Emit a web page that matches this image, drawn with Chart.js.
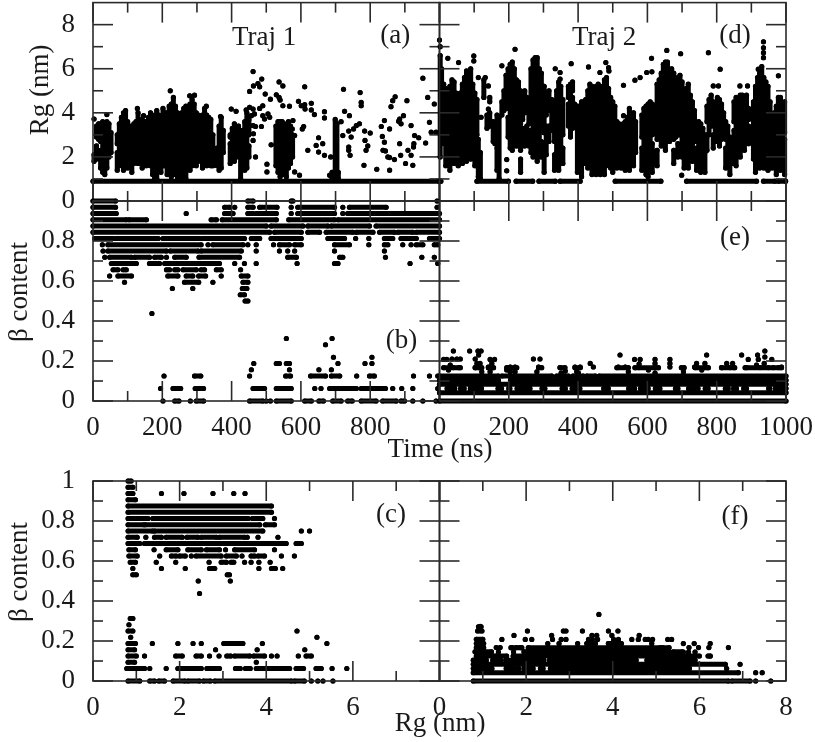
<!DOCTYPE html>
<html>
<head>
<meta charset="utf-8">
<title>Rg and beta content</title>
<script src="https://cdn.jsdelivr.net/npm/chart.js@4/dist/chart.umd.min.js"></script>
<style>
  html, body { margin: 0; padding: 0; background: #fff; }
  #page { position: relative; width: 815px; height: 742px; overflow: hidden; }
  #page canvas { position: absolute; left: 0; top: 0; }
</style>
</head>
<body>
<div id="page"></div>
<script>
// axis ticks
const timeLabels = [0, 200, 400, 600, 800, 1000];
const timeMinor = [100, 300, 500, 700, 900];
const rgLabels = [0, 2, 4, 6, 8];
const rgMinor = [1, 3, 5, 7];
const betaLabels = [0, 0.2, 0.4, 0.6, 0.8, 1];
const betaMinor = [0.1, 0.3, 0.5, 0.7, 0.9];

// (a) Rg against time, traj 1: [time, low, high] for the columns where dots merge
const rg1Baseline = [[0, 1000]];
const rg1Columns = [[3,1.8,2.1],[10,1.9,2.5],[10,2.9,3.4],[16,2.8,3.5],[22,1.5,2.3],[22,2.7,3.5],[28,1.3,3.0],[28,3.2,3.6],[34,1.2,2.0],[34,2.4,3.4],[40,1.5,3.6],[46,2.0,2.6],[46,3.0,3.5],[52,2.2,3.1],
  [70,1.4,2.2],[70,2.6,3.0],[76,1.6,2.8],[76,3.1,3.5],[82,2.0,3.8],[88,1.4,2.4],[88,2.8,4.0],[94,1.9,3.3],[94,3.6,4.1],[100,1.5,2.8],[100,3.0,3.6],[106,2.0,3.4],[112,1.3,2.3],[112,2.7,3.3],[118,1.7,3.0],[118,3.2,3.5],[124,2.0,3.6],[130,1.7,2.6],[130,2.9,4.0],[136,2.0,3.6],[142,1.5,2.4],[142,2.7,3.7],[148,1.9,3.6],[154,1.6,3.0],[154,3.3,3.6],[160,1.9,3.8],[166,1.6,2.9],[166,3.2,4.0],
  [172,1.2,3.6],[178,1.0,3.9],[184,1.0,4.1],[190,1.4,3.9],[196,1.3,3.8],[202,1.6,4.2],[208,1.6,4.0],[214,1.2,4.0],[220,1.5,4.3],[226,1.1,4.4],[232,1.5,4.7],[238,1.2,4.3],[244,1.0,4.0],[250,1.6,3.9],[256,1.0,4.0],[262,1.1,4.2],[268,1.0,4.3],[274,1.5,4.1],[280,1.4,4.4],[286,1.6,4.6],[292,1.7,4.4],[298,1.6,4.0],[304,1.8,3.9],[310,1.9,3.8],[316,1.5,3.9],[322,1.7,4.2],[328,1.6,3.9],[334,1.8,3.8],[340,1.6,3.7],[346,1.6,3.0],
  [358,1.6,2.4],[364,1.4,3.4],[370,1.5,3.8],[376,2.2,3.2],
  [396,1.7,2.6],[396,2.9,3.0],[402,2.0,3.3],[408,1.8,2.8],[408,3.1,3.5],[414,2.0,3.0],[420,2.3,3.4],[426,1.0,2.4],[426,2.7,3.2],[432,2.0,3.2],[438,1.4,2.2],[438,2.5,3.6],[444,1.5,4.0],[450,2.0,2.5],[450,3.0,3.7],
  [528,1.6,3.4],[534,1.3,3.6],[540,1.1,3.6],[546,1.2,3.6],[552,1.2,3.5],[558,1.1,3.4],[564,1.5,3.6],[570,1.7,3.4],[576,2.0,3.0],
  [699,1.1,3.7],[704,1.1,3.5],[708,1.0,1.3],[690,1.0,1.3]];
const rg1Dots = [[3,3.72],[40,3.92],[128,4.2],[146,3.87],[223,5.0],[279,4.77],[293,4.8],[327,4.3],[368,3.83],[399,4.17],[413,4.07],
  [462,5.87],[452,4.97],[463,5.22],[476,5.33],[487,5.53],[481,5.18],[497,4.85],[512,4.62],[529,4.82],[537,5.4],[548,5.22],[537,4.7],[540,4.58],[442,4.13],[452,4.25],[462,4.17],[490,4.32],[481,4.2],[466,3.95],[457,3.87],[490,3.87],[505,3.95],[495,3.72],[510,3.8],[486,3.38],[462,3.42],[469,3.38],[463,3.05],[462,2.75],[469,2.0],[514,2.55],[502,1.67],[502,1.32],[548,4.32],[567,4.3],
  [582,2.97],[575,3.27],[577,3.65],[582,1.32],[596,1.17],[593,4.52],[611,5.18],[601,4.32],[611,4.37],[630,4.43],[612,4.17],[630,4.13],[639,3.92],[668,4.05],[668,3.77],[604,3.27],[608,3.38],[651,2.87],[644,2.52],[663,2.6],[620,2.3],[651,2.22],[668,2.07],[686,2.0],[683,1.17],
  [723,5.07],[726,4.07],[740,3.87],[716,3.6],[721,2.97],[738,3.17],[745,2.9],[752,3.27],[760,3.42],[769,3.5],[738,2.45],[738,2.3],[742,2.07],[771,4.92],[774,4.47],[774,4.32],[784,3.17],[800,3.08],[785,2.75],[793,2.5],[788,2.3],[782,1.62],[819,1.44],
  [872,4.73],[865,4.55],[860,4.28],[906,4.55],[896,3.87],[885,3.72],[882,3.62],[889,3.5],[918,3.42],[841,3.65],[832,3.38],[856,3.27],[835,2.93],[841,2.67],[837,2.3],[844,2.27],[851,2.0],[856,1.97],[870,1.88],[885,2.6],[888,2.07],[902,1.7],[923,1.62],[909,2.3],[918,2.07],[925,2.45],[926,2.6],[928,2.97],[940,2.87],[960,2.63],[952,5.57],[966,4.7],[971,3.57],[976,3.12],[990,3.12],[985,4.4],[856,1.4]];

// (d) Rg against time, traj 2
const rg2Baseline = [[108,199],[221,269],[287,334],[348,406],[507,639],[713,915],[935,968],[978,999]];
const rg2Columns = [[2,2.0,6.6],[6,2.6,6.0],[12,3.0,5.3],[18,1.6,5.1],[24,3.0,4.9],[30,1.4,5.2],[36,3.0,5.5],[42,1.7,5.4],[48,3.0,4.9],[54,1.6,4.6],[60,2.8,4.9],[66,1.7,5.3],[72,3,5.6],[78,1.8,4.4],[78,4.7,5.9],[84,3.0,5.7],[90,1.9,4.5],[90,4.8,6.0],[96,3.0,5.3],[102,1.6,4.9],[108,3.0,4.6],[112,1.1,2.8],[118,1.0,2.2],
  [128,4.7,5.5],[137,3.3,3.9],[145,3.4,4.0],[145,4.5,4.7],[155,2.7,3.6],[160,2.6,3.3],[166,1.4,2.4],[166,3.0,3.9],[172,1.0,3.8],[180,3.9,4.5],[186,4.1,5.0],[192,4.4,5.7],
  [198,2.9,3.8],[198,4.2,6.0],[204,2.4,4.6],[204,5.0,6.2],[210,2.3,6.3],[216,2.6,5.0],[216,5.3,6.0],[222,2.5,5.5],[228,2.9,3.4],[228,3.8,5.4],[234,1.3,1.9],[234,2.3,3.1],[234,3.5,5.0],[240,2.9,3.3],[240,3.7,4.6],[246,2.5,3.1],[246,4.0,5.0],[252,3.0,3.4],[252,4.2,4.7],[258,2.5,2.9],[258,3.5,4.2],
  [264,2.2,3.2],[264,3.6,6.0],[270,2.0,2.6],[270,3.1,6.4],[276,2.6,3.4],[276,3.9,6.5],[282,1.8,2.5],[282,3.0,6.5],[288,2.4,3.1],[288,3.6,6.0],[294,2.0,2.7],[294,3.2,5.8],
  [302,1.3,2.5],[302,3.1,5.2],[308,2.1,3.4],[308,3.9,4.7],[316,2.7,3.4],[316,4.1,5.0],[324,3.2,4.6],
  [332,1.4,2.1],[332,2.7,4.2],[338,2.2,3.5],[338,4.0,5.0],[344,1.4,3.0],[344,3.4,5.4],[350,2.4,3.7],[350,4.2,5.2],[356,1.7,2.4],[356,3.0,4.6],
  [372,3.4,4.4],[372,4.7,5.2],[378,2.9,3.8],[378,4.2,5.3],[384,3.3,4.7],[384,5.0,5.4],[390,3.6,4.4],
  [398,1.3,4.3],[404,1.9,4.3],[410,1.1,4.5],[416,1.7,4.5],[422,1.7,4.6],[428,1.5,5.0],[434,2.0,5.3],[440,1.2,5.2],[446,1.7,5.1],[452,1.2,5.2],[458,1.8,5.3],[464,1.2,5.2],[470,1.7,5.0],[476,1.2,5.5],[482,1.7,5.6],[488,1.6,5.1],[494,1.5,4.7],[500,1.3,4.5],[506,1.7,4.3],
  [512,1.5,2.3],[512,2.7,3.6],[518,2.0,3.5],[524,1.5,2.4],[524,2.8,3.4],[530,1.8,3.5],[536,1.4,2.4],[536,2.8,3.6],[542,2.0,3.8],[548,1.4,3.0],[548,3.4,4.2],[554,1.9,3.2],[560,1.6,2.6],[560,3.0,4.0],[566,2.2,3.6],
  [584,1.4,2.4],[584,2.9,3.9],[590,2.1,3.4],[590,3.7,4.2],[596,1.2,2.6],[596,3.0,4.3],[602,1.1,3.3],[602,3.7,4.4],[608,1.8,3.0],[608,3.3,4.5],[614,1.3,2.6],[614,3.0,4.4],
  [628,1.6,2.3],[628,2.8,5.3],[634,3.0,5.5],[640,2.5,5.8],[646,2.9,6.2],[652,2.3,6.3],[658,3.0,6.3],[664,2.7,5.9],[670,3.0,6.0],[676,1.7,2.3],[676,2.8,5.8],[682,2.9,5.5],[688,2.0,2.6],[688,3.0,5.6],[694,3.0,5.7],[700,2.0,5.4],[706,1.5,2.4],[706,3.0,5.0],[712,2.0,5.1],[718,1.5,2.2],[718,2.6,5.3],[724,2.0,4.8],[730,1.8,4.5],[736,2.9,4.1],
  [742,1.4,2.4],[742,2.7,3.4],[748,2.0,3.6],[754,1.3,2.6],[754,3.0,3.5],[760,1.8,3.3],[766,1.3,2.2],[766,2.5,3.0],
  [772,2.3,3.0],[772,3.6,4.3],[778,3.0,3.6],[778,4.0,4.6],[784,3.4,3.9],[784,4.3,4.8],[790,2.4,3.0],[790,3.5,4.5],[796,2.7,3.3],[802,3.3,4.7],[808,2.5,3.1],[808,3.6,4.6],[814,2.8,3.4],[814,3.9,4.4],[820,2.9,4.0],
  [826,1.5,2.4],[826,2.8,3.6],[832,1.9,3.4],[838,1.2,2.2],[838,2.5,2.9],[844,1.7,2.7],
  [850,2.5,3.2],[850,3.6,4.5],[856,1.6,2.5],[856,3.0,4.7],[862,2.2,3.6],[862,4.0,4.5],[868,2.0,2.9],[868,3.3,4.8],[874,2.5,3.7],[874,4.1,4.8],[880,2.3,3.0],[880,3.4,4.4],[886,2.8,3.8],[886,4.2,4.8],[892,2.6,3.4],[892,3.7,4.2],
  [906,1.9,4.5],[912,1.3,3.0],[912,3.3,5.2],[918,1.9,5.6],[924,1.5,3.2],[924,3.5,5.8],[930,2.0,6.1],[936,1.5,3.2],[936,3.5,5.6],[942,1.9,5.4],[948,1.4,3.0],[948,3.3,5.2],
  [954,2.2,4.5],[960,1.5,2.8],[960,3.1,3.9],[966,2.0,4.0],[972,1.2,2.6],[972,2.9,4.3],[978,2.1,4.7],[984,1.4,3.0],[984,3.3,4.7],[990,2.0,4.4],[996,1.2,2.8],[996,3.1,4.5]];
const rg2Dots = [[0,7.3],[2,7.0],[24,6.47],[55,6.28],[99,6.58],[99,6.35],[218,6.88],[180,6.13],[380,6.23],[334,6.0],[430,6.08],[480,6.28],[463,5.83],[488,6.05],[489,5.9],[531,5.25],[564,5.48],[579,5.6],[598,5.83],[613,5.86],[612,6.47],[656,6.83],[696,6.68],[776,6.73],[810,5.98],[935,7.22],[935,6.95],[935,6.73],[935,6.5],[920,5.98],[978,5.68],[348,5.83],[348,5.53],[132,5.6],[112,5.6],[141,5.22],[790,5.22],[805,5.22],[867,5.22],[889,5.22],[699,1.17],[194,1.88],[194,1.37],[141,4.17],[120,3.8],[531,3.87],[410,4.32],[0,0.9],[4,0.9]];

// (b) beta content against time, traj 1: [level in 32nds, runs of time...], a lone number is one dot
const beta1Rows = [
  [32,[0,65],[447,462],[572,577],993],
  [31,[0,65],[380,394],409,[447,462],[481,531],572,[591,697],721,[740,846],993],
  [30,[0,67],269,[380,404],[447,462],[472,529],572,[591,697],721,[735,830],[832,1000]],
  [29,[0,96],[104,154],[341,356],[373,529],[565,697],[707,1000]],
  [28,[0,500],[514,606],[620,678],[688,798],[817,1000]],
  [27,[0,510],[524,601],[620,654],[673,750],[760,808],[827,870],[880,923],[933,1000]],
  [26,[5,58],[67,188],[202,308],[317,437],[457,481],[514,601],[678,726],758,796,[841,865],[889,933],[971,1000]],
  [25,27,[43,312],332,[346,433],447,471,521,[538,567],[582,601],[697,740],796,[841,851],894,918,[933,952],[985,995]],
  [24,29,[43,212],[223,303],[312,428],471,538,562,582,697,841],
  [23,34,[48,111],[120,163],[178,197],212,[236,269],[306,423],[562,587],[712,721],844,949,985],
  [22,[53,125],[163,192],[207,365],409,437,471,589,[697,707],915,995],
  [21,[58,72],[87,96],[212,221],[236,245],[260,298],[312,322],[356,370],426],
  [20,48,[72,111],[216,245],[269,288],[305,325],370,[428,447]],
  [19,91,[264,305],346,[433,447]],
  [18,229,288,[431,444]],
  [17,[425,437]],
  [16,[439,447]],
  [14,170],
  [10,558,690],
  [9,671],
  [7,694,805],
  [6,464,[529,538],[558,567],707,785,805],
  [5,457,567,652,688],
  [4,205,[293,311],452,[556,570],[628,671],[688,712],761,[798,812],925,971,995],
  [2,195,[231,253],[295,319],[462,495],[529,572],640,658,[683,760],[774,844],865,891,923,995],
  [0,202,[236,248],281,[298,319],[452,490],500,512,[529,572],[611,630],[652,665],[692,716],[735,748],[774,817],[836,875],[889,899],923,952,990]
];

// (e) beta content against time, traj 2: levels in 24ths
const beta2Rows = [
  [0,[0,1000]],
  [1,[0,1000]],
  [1.5,[22,44],[61,71],[89,121],[169,179],[200,203],[224,261],[296,304],[354,363],[383,405],[474,487],[546,563],[580,602],[623,636],[681,688],[719,727],[739,746],[767,775],[825,833],[849,857],[878,886],[950,953],[969,1000]],
  [2,[0,1000]],
  [2.5,[0,8],[14,34],[40,72],[78,120],[125,170],[205,232],[240,262],[270,320],[332,400],[410,470],[480,560],[566,640],[650,730],[740,830],[838,905],[912,1000]],
  [3,[0,170],[180,324],[338,372],[385,415],[425,450],[461,1000]],
  [4,[12,60],[103,122],[141,156],[194,223],[286,295],[348,362],[391,406],[512,545],[564,632],[698,706],[738,776],[814,852],[882,987]]
];
const beta2Dots = [[40,.25],[87,.25],[111,.25],[120,.25],[36,.21],[50,.21],[60,.21],[12,.208],[21,.208],[103,.21],[113,.23],[146,.208],[159,.208],[151,.188],[108,.188],[117,.188],[31,.18],[40,.167],[55,.167],[26,.155],[141,.17],[153,.167],[146,.146],[103,.167],[113,.167],[122,.146],
  [271,.21],[290,.21],[286,.17],[204,.17],[218,.17],[204,.146],[218,.146],[194,.155],[281,.146],[348,.167],[363,.15],[351,.14],[391,.17],[406,.17],[396,.146],[435,.188],[444,.17],[401,.14],[521,.23],[563,.208],[579,.208],[576,.185],[622,.208],[622,.188],[620,.167],[665,.208],[665,.188],[665,.17],[516,.17],[536,.17],[545,.146],[576,.167],[603,.155],[622,.14],[704,.146],[742,.188],[736,.17],[771,.23],[766,.188],[771,.167],[757,.155],[814,.167],[829,.188],[846,.188],[838,.167],[872,.23],[891,.208],[887,.167],[918,.23],[920,.208],[939,.25],[939,.22],[937,.188],[959,.208],[987,.17],[963,.167],[915,.18],[925,.167],[949,.167],[978,.167]];

// (c) beta content against Rg, traj 1: levels in 32nds
const scatter1Rows = [
  [32,[.81,.88]],
  [31,[.81,.92]],
  [30,[.81,.92],1.58,2.1,2.77,3.25,3.51],
  [29,[.81,.98]],
  [28,[.81,4.12]],
  [27,[.81,4.12]],
  [26,[.81,1.27],[1.38,3.58],[3.68,3.92],4.19],
  [25,[.81,1.17],[1.21,3.85],[3.98,4.19]],
  [24,[.81,1.38],[1.42,3.92],4.81,5.0],
  [23,[.81,1.02],1.22,[1.42,1.58],[1.69,2.06],[2.17,2.42],[2.5,2.85],[2.92,3.5],3.56,3.81,4.27],
  [22,[.81,1.08],[1.19,4.46],[4.69,4.81]],
  [21,[.83,.98],1.41,[1.69,1.96],[2.19,2.5],[2.62,2.92],3.06,[3.27,3.73],4.19],
  [20,[.83,1.02],1.54,[1.81,1.92],[2.0,2.13],2.27,[2.38,2.96],[3.08,3.31],3.44,[3.65,3.73],[3.81,3.96],4.35,4.65],
  [19,[.86,.98],1.46,1.91,2.68,[2.96,3.08],[3.19,3.25],3.5,3.65,3.83,4.09],
  [18,.92,1.58,2.13,[2.69,2.81],3.83,[4.12,4.21],4.38],
  [17,[.92,1.0],[3.1,3.15]],
  [16,2.43,3.17],
  [14,2.46],
  [10,[.86,.92]],
  [9,.83],
  [8,[.81,.92],4.71],
  [7,.87,5.17],
  [6,[.81,.98],1.37,1.96,2.31,2.5,[3.02,3.46],3.91,5.4],
  [5,[.81,.96],2.83,3.79,4.89],
  [4,[.81,1.0],1.19,[1.91,2.06],[2.38,2.5],2.69,2.91,[3.09,3.18],[3.27,3.62],[3.71,3.96],4.12,4.25,4.74,[4.92,5.04]],
  [3,[.81,.96],3.77],
  [2,[.78,1.19],1.31,1.69,[1.96,2.5],[2.63,2.92],[3.29,3.4],[3.52,3.63],[3.77,4.54],[4.69,4.86],[5.15,5.27],5.52,5.86],
  [0,[.81,1.08],[1.31,1.42],[1.52,1.65],[1.85,2.12],[2.19,2.46],[2.55,2.71],[2.81,4.58],[4.65,4.88],5.04,5.19,5.31,5.54]
];

// (f) beta content against Rg, traj 2: levels in 24ths
const scatter2Rows = [
  [0,[.78,6.67],[6.75,7.17],7.3,7.65],
  [1,[.78,6.9],7.3,7.45],
  [1.5,[.78,1.21],[1.54,1.62],[1.68,1.72],[1.82,1.83],[1.95,2.16],[2.33,2.39],[2.56,2.8],[2.87,3.62],[3.68,4.22],[4.28,5.77]],
  [2,[.78,6.6],6.94],
  [2.5,[.78,1.08],[1.23,1.41],[1.53,1.97],[2.06,2.41],[2.54,2.8],[2.87,3.05],[3.1,3.62],[3.66,4.54],[4.79,4.93],[5.03,5.9]],
  [3,[.85,1.25],[1.3,1.55],[1.7,6.0],6.2,6.25],
  [3.5,[.82,1.2],[1.95,2.9],[3.0,3.3],[3.4,3.6],[3.7,5.3],[5.4,5.6]],
  [4,[.85,1.02],[1.65,1.9],[2.05,5.1],[5.15,5.3]],
  [4.5,[.85,1.02],[3.4,3.6],[3.9,4.2]],
  [5,[.85,1.0]],
  [6,[.88,.98]],
  [6.5,[.9,.96]]
];
const scatter2Dots = [[.94,.273],[1.72,.228],[2.03,.25],[1.44,.208],[1.98,.208],[2.13,.208],[1.31,.167],[1.4,.167],[1.36,.145],[1.67,.167],[1.78,.167],[1.86,.167],[1.71,.145],[2.59,.228],[2.61,.208],[2.86,.25],[2.92,.25],[2.81,.208],[2.92,.208],[2.76,.187],[2.5,.187],[3.3,.25],[3.68,.333],[3.44,.208],[3.52,.228],[3.63,.228],[3.53,.208],[3.65,.208],[3.42,.187],[3.19,.187],[3.9,.25],[4.12,.25],[3.98,.228],[4.02,.208],[4.13,.208],[3.9,.187],[4.17,.187],[4.44,.208],[4.61,.228],[4.59,.208],[4.75,.208],[4.82,.208],[4.92,.208],[4.9,.187],[5.27,.208],[5.36,.208],[5.63,.187],[5.88,.187],[6.25,.187],[6.22,.167],[5.98,.167],[5.76,.167],[6.67,.167],[5.63,.145],[5.75,.145],[6.25,.125],[5.9,.145],[6.63,.0625]];

const FONT = '"Liberation Serif", "Times New Roman", serif';
const INK = '#1a1a1a';
const WIDTH = 815, HEIGHT = 742;

// turn the readings into chart points, a null y breaks the line between runs
function fromRuns(runs, y) {
  const out = [];
  runs.forEach(r => {
    if (Array.isArray(r)) { out.push({x: r[0], y: y}, {x: r[1], y: y}); }
    else { out.push({x: r, y: y}); }
    out.push({x: 0, y: null});
  });
  return out;
}
function fromRows(rows, denominator) {
  return rows.flatMap(row => fromRuns(row.slice(1), row[0] / denominator));
}
function fromColumns(columns) {
  return columns.flatMap(c => [{x: c[0], y: c[1]}, {x: c[0], y: c[2]}, {x: 0, y: null}]);
}
function fromDots(dots) {
  return dots.flatMap(d => [{x: d[0], y: d[1]}, {x: 0, y: null}]);
}

const panelFrame = {
  id: 'panelFrame',
  afterDatasetsDraw(chart, args, opts) {
    const {ctx, chartArea: a, scales} = chart;
    ctx.save();
    ctx.strokeStyle = '#2a2a2a';
    ctx.lineWidth = 1.6;
    const tick = (x1, y1, x2, y2) => { ctx.beginPath(); ctx.moveTo(x1, y1); ctx.lineTo(x2, y2); ctx.stroke(); };
    const drawX = (values, len) => values.forEach(v => {
      const px = scales.x.getPixelForValue(v);
      tick(px, a.top, px, a.top + len);
      tick(px, a.bottom, px, a.bottom - len);
    });
    const drawY = (values, len) => values.forEach(v => {
      const py = scales.y.getPixelForValue(v);
      tick(a.left, py, a.left + len, py);
      tick(a.right, py, a.right - len, py);
    });
    drawX(opts.xMajor, 20); drawX(opts.xMinor, 10);
    drawY(opts.yMajor, 20); drawY(opts.yMinor, 10);
    ctx.strokeRect(a.left, a.top, a.right - a.left, a.bottom - a.top);

    ctx.fillStyle = INK;
    ctx.font = '27px ' + FONT;
    ctx.textAlign = 'center';
    ctx.textBaseline = 'middle';
    (opts.notes || []).forEach(n => {
      ctx.fillText(n[0], scales.x.getPixelForValue(n[1]), scales.y.getPixelForValue(n[2]));
    });
    (opts.page || []).forEach(n => {
      ctx.save();
      ctx.translate(n[1], n[2]);
      if (n[3]) ctx.rotate(-Math.PI / 2);
      ctx.fillText(n[0], 0, 0);
      ctx.restore();
    });
    ctx.restore();
  }
};

// the scale would otherwise pull the plot area in to make room for half a tick label
function noScalePadding(s) {
  s.paddingLeft = s.paddingRight = s.paddingTop = s.paddingBottom = 0;
}

function addPanel(p) {
  const canvas = document.createElement('canvas');
  canvas.width = WIDTH;
  canvas.height = HEIGHT;
  document.getElementById('page').appendChild(canvas);
  const tickFont = {family: FONT, size: 27};
  return new Chart(canvas, {
    type: 'scatter',
    data: {datasets: [{
      data: p.points,
      showLine: true,
      borderColor: '#000',
      borderWidth: 5,
      borderCapStyle: 'round',
      backgroundColor: '#000',
      pointRadius: 2.6,
      pointBorderWidth: 0,
      pointHoverRadius: 2.6,
      clip: false
    }]},
    options: {
      responsive: false,
      animation: false,
      events: [],
      layout: {padding: {left: p.left - 60, right: WIDTH - p.right, top: p.top, bottom: HEIGHT - p.bottom - 40}},
      scales: {
        x: {
          type: 'linear', min: 0, max: p.xMax,
          grid: {display: false}, border: {display: false},
          afterBuildTicks: s => { s.ticks = p.xLabels.map(v => ({value: v})); },
          afterFit: s => { s.height = 40; noScalePadding(s); },
          ticks: {display: p.xLabelled, font: tickFont, color: INK, padding: 3, maxRotation: 0, autoSkip: false, callback: v => String(v)}
        },
        y: {
          type: 'linear', min: 0, max: p.yMax,
          grid: {display: false}, border: {display: false},
          afterBuildTicks: s => { s.ticks = p.yLabels.map(v => ({value: v})); },
          afterFit: s => { s.width = 60; noScalePadding(s); },
          ticks: {display: p.yLabelled, font: tickFont, color: INK, padding: 10, autoSkip: false, callback: v => String(v)}
        }
      },
      plugins: {
        legend: {display: false},
        tooltip: {enabled: false},
        panelFrame: {
          xMajor: p.xMajor, xMinor: p.xMinor,
          yMajor: p.yMajor, yMinor: p.yMinor,
          notes: p.notes, page: p.page
        }
      }
    },
    plugins: [panelFrame]
  });
}

const L1 = 93, L2 = 439.5, R2 = 786;
const topRow = {top: 1, bottom: 201, xMax: 1000, yMax: 9, xMajor: timeLabels, xMinor: timeMinor, yMajor: rgLabels, yMinor: rgMinor, xLabels: timeLabels, xLabelled: false, yLabels: rgLabels};
const midRow = {top: 201, bottom: 401, xMax: 1000, yMax: 1, xMajor: timeLabels, xMinor: timeMinor, yMajor: betaLabels, yMinor: betaMinor, xLabelled: true, yLabels: betaLabels.slice(0, 5)};
const lowRow = {top: 481, bottom: 681, xMax: 8, yMax: 1, xMajor: rgLabels, xMinor: rgMinor, yMajor: betaLabels, yMinor: betaMinor, xLabelled: true, yLabels: betaLabels};

addPanel({...topRow, left: L1, right: L2, yLabelled: true,
  points: [...fromRows([[0.9, ...rg1Baseline]], 1), ...fromColumns(rg1Columns), ...fromDots(rg1Dots)],
  notes: [['Traj 1', 494, 7.4], ['(a)', 872, 7.5]],
  page: [['Rg (nm)', 41, 90, true]]});
addPanel({...topRow, left: L2, right: R2, yLabelled: false,
  points: [...fromRows([[0.9, ...rg2Baseline]], 1), ...fromColumns(rg2Columns), ...fromDots(rg2Dots)],
  notes: [['Traj 2', 475, 7.4], ['(d)', 853, 7.5]]});
addPanel({...midRow, left: L1, right: L2, yLabelled: true, xLabels: timeLabels.slice(0, 5),
  points: fromRows(beta1Rows, 32),
  notes: [['(b)', 890, 0.3]],
  page: [['β content', 20, 292, true], ['Time (ns)', 440, 450, false]]});
addPanel({...midRow, left: L2, right: R2, yLabelled: false, xLabels: timeLabels,
  points: [...fromRows(beta2Rows, 24), ...fromDots(beta2Dots)],
  notes: [['(e)', 853, 0.815]]});
addPanel({...lowRow, left: L1, right: L2, yLabelled: true, xLabels: rgLabels.slice(0, 4),
  points: fromRows(scatter1Rows, 32),
  notes: [['(c)', 6.88, 0.83]],
  page: [['β content', 20, 572, true], ['Rg (nm)', 440, 724, false]]});
addPanel({...lowRow, left: L2, right: R2, yLabelled: false, xLabels: rgLabels,
  points: [...fromRows(scatter2Rows, 24), ...fromDots(scatter2Dots)],
  notes: [['(f)', 6.82, 0.82]]});
</script>
</body>
</html>
